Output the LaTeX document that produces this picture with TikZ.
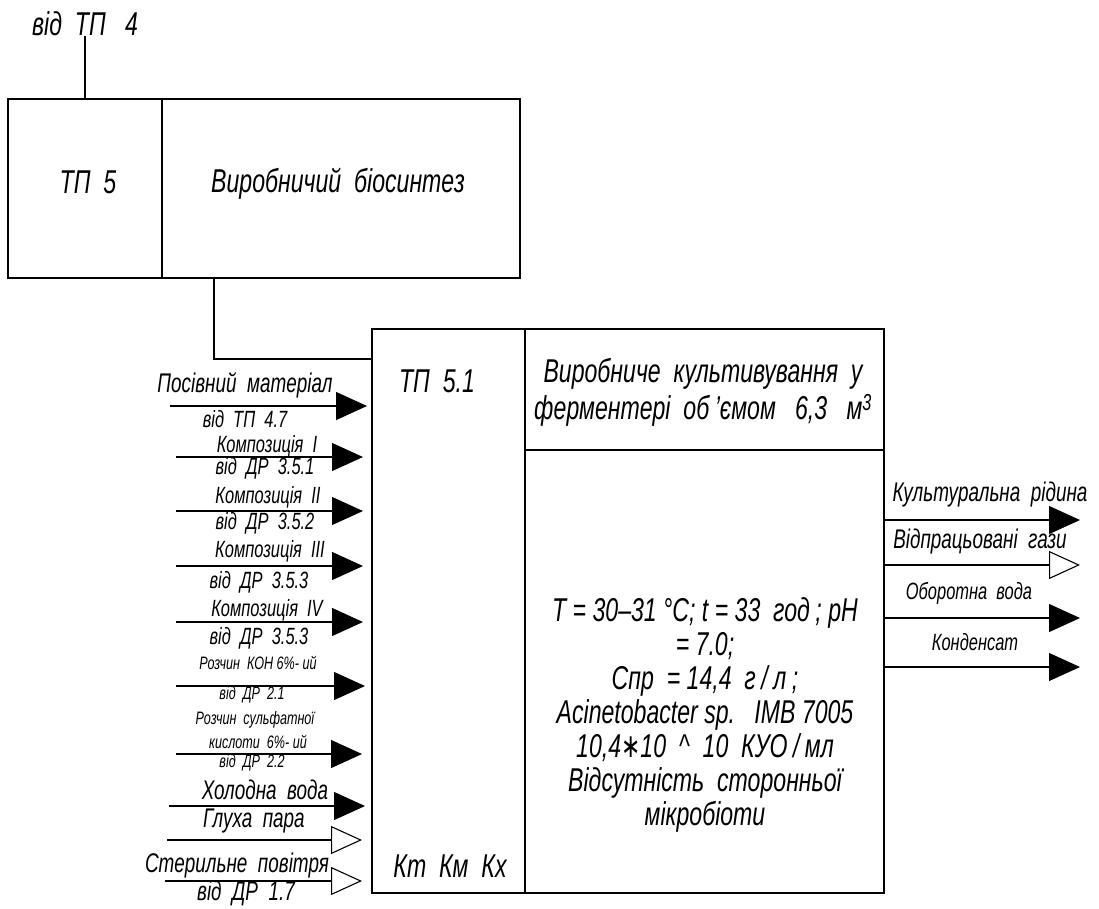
\documentclass[tikz,border=0pt]{standalone}
\usepackage{fontspec}
\setmainfont{Liberation Sans}[FakeStretch=0.7]
\newfontfamily\djv{DejaVu Sans}[FakeStretch=0.7]
\usetikzlibrary{arrows.meta}
\newcommand\fbig{\fontsize{33}{34}\selectfont\itshape}
\newcommand\fttl{\fontsize{33}{37}\selectfont\itshape}
\newcommand\fmid{\fontsize{27}{30}\selectfont\itshape}
\newcommand\fsml{\fontsize{23.5}{27}\selectfont\itshape}
\newcommand\ftny{\fontsize{18}{20}\selectfont\itshape}
\tikzset{
  lw/.style={line width=1.1pt},
  cell/.style={draw, lw, inner sep=0pt},
  txt/.style={inner sep=0pt},
  fin/.style={lw, -{Triangle[length=31pt,width=28pt]}},
  oin/.style={lw, -{Triangle[open,length=31pt,width=28pt,fill=white]}}
}
\begin{document}
\begin{tikzpicture}[x=1pt,y=-1pt]
\useasboundingbox[fill=white] (0,0) rectangle (1099,908);
% top block
\node[cell, minimum width=154pt, minimum height=179pt] (tp5) at (85,188.5) {};
\node[cell, minimum width=358pt, minimum height=179pt] (bio) at (341,188.5) {};
\node[txt, font=\fbig] (tp5t) at (88,182) {ТП\ \ 5};
\node[txt, font=\fbig] (biot) at (338,184) {Виробничий\ \ біосинтез};
\node[txt, font=\fbig] (from4) at (85,24) {від\ \ ТП\ \ \ 4};
\draw[lw] (from4.south) -- (tp5.north);
% main block
\node[cell, minimum width=153pt, minimum height=564pt] (tp51) at (448.5,611) {};
\node[cell, minimum width=359pt, minimum height=121pt] (title) at (704.5,389.5) {};
\node[cell, minimum width=359pt, minimum height=443pt] (params) at (704.5,671.5) {};
\node[txt, font=\fbig] (tp51t) at (437,381) {ТП\ \ 5.1};
\node[txt, font=\fbig] (kk) at (450,866) {Кт\ \ Км\ \ Кх};
\node[txt, font=\fttl, align=center] (titlet) at (703,392) {Виробниче\ \ культивування\ \ у\\ферментері\ \ об\,’ємом\ \ \ 6,3\ \ \ м\textsuperscript{3}};
\node[txt, font=\fbig, align=center] (paramst) at (705,715) {T\ =\ 30–31\ °C;\ t\ =\ 33\ \ год\,;\ pH\\=\ 7.0;\\Cпр\ \ =\ 14,4\ \ г\,/\,л\,;\\Acinetobacter\ sp.\ \ \ IMB\ 7005\\10,4{\djv ∗}10\ \ \textasciicircum\ \ 10\ \ КУО\,/\,мл\\Відсутність\ \ сторонньої\\мікробіоти};
% connector between blocks
\coordinate (bend) at (214,359);
\draw[lw] (bio.south -| bend) -- (bend) -- (tp51.west |- bend);
% input arrows
\coordinate (i1s) at (170,406); \coordinate (i1e) at (367,406);
\coordinate (i2s) at (176,457); \coordinate (i2e) at (363,457);
\coordinate (i3s) at (176,511); \coordinate (i3e) at (363,511);
\coordinate (i4s) at (176,566); \coordinate (i4e) at (363,566);
\coordinate (i5s) at (176,622); \coordinate (i5e) at (363,622);
\coordinate (i6s) at (176,686); \coordinate (i6e) at (365,686);
\coordinate (i7s) at (176,754); \coordinate (i7e) at (362,754);
\coordinate (i8s) at (169,806); \coordinate (i8e) at (365,806);
\coordinate (i9s) at (167,840); \coordinate (i9e) at (362,840);
\coordinate (i10s) at (165,881); \coordinate (i10e) at (362,881);
\draw[fin] (i1s) -- (i1e);
\draw[fin] (i2s) -- (i2e);
\draw[fin] (i3s) -- (i3e);
\draw[fin] (i4s) -- (i4e);
\draw[fin] (i5s) -- (i5e);
\draw[fin] (i6s) -- (i6e);
\draw[fin] (i7s) -- (i7e);
\draw[fin] (i8s) -- (i8e);
\draw[oin] (i9s) -- (i9e);
\draw[oin] (i10s) -- (i10e);
% input labels
\node[txt, font=\fmid] (l1a) at (245,385) {Посівний\ \ матеріал};
\node[txt, font=\fsml] (l1b) at (245,419) {від\ \ ТП\ \ 4.7};
\node[txt, font=\fsml] (l2a) at (267,446) {Композиція\ \ I};
\node[txt, font=\fsml] (l2b) at (265,468) {від\ \ ДР\ \ 3.5.1};
\node[txt, font=\fsml] (l3a) at (268,497) {Композиція\ \ II};
\node[txt, font=\fsml] (l3b) at (265,523) {від\ \ ДР\ \ 3.5.2};
\node[txt, font=\fsml] (l4a) at (270,551) {Композиція\ \ III};
\node[txt, font=\fsml] (l4b) at (259,582) {від\ \ ДР\ \ 3.5.3};
\node[txt, font=\fsml] (l5a) at (267,610) {Композиція\ \ IV};
\node[txt, font=\fsml] (l5b) at (259,638) {від\ \ ДР\ \ 3.5.3};
\node[txt, font=\ftny] (l6a) at (258,663) {Розчин\ \ КОН\ 6\%-\ ий};
\node[txt, font=\ftny] (l6b) at (252,695) {від\ \ ДР\ \ 2.1};
\node[txt, font=\ftny] (l7a) at (255,720) {Розчин\ \ сульфатної};
\node[txt, font=\ftny] (l7b) at (258,742) {кислоти\ \ 6\%-\ ий};
\node[txt, font=\ftny] (l7c) at (252,763) {від\ \ ДР\ \ 2.2};
\node[txt, font=\fmid] (l8) at (265,790) {Холодна\ \ вода};
\node[txt, font=\fmid] (l9) at (254,821) {Глуха\ \ пара};
\node[txt, font=\fmid] (l10a) at (237,866) {Стерильне\ \ повітря};
\node[txt, font=\fmid] (l10b) at (246,893) {від\ \ ДР\ \ 1.7};
% output arrows
\coordinate (o1e) at (1080,520);
\coordinate (o2e) at (1080,565);
\coordinate (o3e) at (1080,618);
\coordinate (o4e) at (1080,667);
\draw[fin] (params.east |- o1e) -- (o1e);
\draw[oin] (params.east |- o2e) -- (o2e);
\draw[fin] (params.east |- o3e) -- (o3e);
\draw[fin] (params.east |- o4e) -- (o4e);
\node[txt, font=\fmid] (r1) at (990,495) {Культуральна\ \ рідина};
\node[txt, font=\fmid] (r2) at (980,542) {Відпрацьовані\ \ гази};
\node[txt, font=\fsml] (r3) at (969,593) {Оборотна\ \ вода};
\node[txt, font=\fsml] (r4) at (975,642) {Конденсат};
\end{tikzpicture}
\end{document}
